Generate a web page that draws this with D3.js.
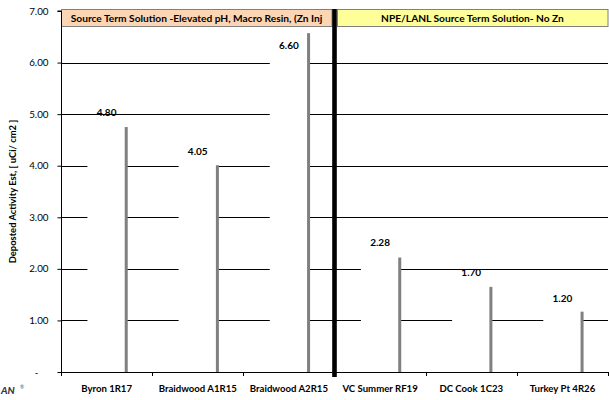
<!DOCTYPE html>
<html>
<head>
<meta charset="utf-8">
<script src="https://cdn.jsdelivr.net/npm/d3@7"></script>
<style>
  body { margin: 0; background: #fff; }
  svg { display: block; font-family: Lato, "Open Sans", sans-serif; }
</style>
</head>
<body>
<svg id="chart" width="609" height="400"></svg>
<script>
const categories = ["Byron 1R17", "Braidwood A1R15", "Braidwood A2R15", "VC Summer RF19", "DC Cook 1C23", "Turkey Pt 4R26"];
const labelValues = [4.80, 4.05, 6.60, 2.28, 1.70, 1.20];
const greyValues = [4.75, 4.01, 6.57, 2.22, 1.65, 1.17];
const yTicks = [0, 1, 2, 3, 4, 5, 6, 7];
const yTitle = "Deposted Activity Est, [ uCi/ cm2 ]";
const groups = [
  { title: "Source Term Solution -Elevated pH, Macro Resin, (Zn Inj", fill: "#FCD5B4" },
  { title: "NPE/LANL Source Term Solution- No Zn", fill: "#FFFF99" }
];

const svg = d3.select("#chart");
const pLeft = 61, pRight = 608, pTop = 11, pBottom = 372;

const x = d3.scaleBand().domain(categories).range([pLeft, pRight]).padding(0);
const y = d3.scaleLinear().domain([0, 7]).range([pBottom, pTop]);
const bw = x.bandwidth();
const whiteW = bw * 0.42;

// gridlines
svg.append("g").selectAll("line").data(yTicks.filter(d => d > 0 && d < 7)).join("line")
  .attr("x1", pLeft).attr("x2", pRight)
  .attr("y1", d => Math.round(y(d)) + 0.5).attr("y2", d => Math.round(y(d)) + 0.5)
  .attr("stroke", "#000").attr("stroke-width", 1);

// white bars (hide gridlines)
svg.append("g").selectAll("rect").data(categories).join("rect")
  .attr("x", (d) => x(d) + bw / 2 - whiteW / 2)
  .attr("width", whiteW)
  .attr("y", (d, i) => y(labelValues[i]))
  .attr("height", (d, i) => pBottom - y(labelValues[i]))
  .attr("fill", "#fff");

// grey thin bars
svg.append("g").selectAll("rect").data(categories).join("rect")
  .attr("x", (d) => x(d) + bw / 2 + whiteW / 2 - 1)
  .attr("width", 3)
  .attr("y", (d, i) => y(greyValues[i]))
  .attr("height", (d, i) => pBottom - y(greyValues[i]))
  .attr("fill", "#808080");

// value labels
svg.append("g").selectAll("text").data(categories).join("text")
  .attr("x", d => x(d) + bw / 2)
  .attr("y", (d, i) => {
    const yy = y(labelValues[i]) - 8.5;
    return yy < 35 ? y(labelValues[i]) + 17 : yy;
  })
  .attr("text-anchor", "middle")
  .attr("font-size", 10).attr("font-weight", "bold").attr("fill", "#000")
  .text((d, i) => labelValues[i].toFixed(2));

// header boxes
const sepX = (x(categories[2]) + bw + x(categories[3])) / 2;
groups.forEach((g, gi) => {
  const x0 = gi === 0 ? pLeft : sepX + 2.5;
  const x1 = gi === 0 ? sepX - 2.5 : pRight;
  svg.append("rect").attr("x", x0 + 0.5).attr("y", 9.5).attr("width", x1 - x0 - 0.5).attr("height", 17)
    .attr("fill", g.fill).attr("stroke", "#7f7f7f").attr("stroke-width", 1);
  svg.append("text").attr("x", (x0 + x1) / 2).attr("y", 21.8)
    .attr("text-anchor", "middle").attr("font-size", 10.2).attr("font-weight", "bold").attr("fill", "#000")
    .text(g.title);
});

// separator
svg.append("rect").attr("x", sepX - 2.3).attr("y", 9).attr("width", 4.6).attr("height", pBottom + 5 - 9).attr("fill", "#000");

// y axis
const yAxis = d3.axisLeft(y).tickValues(yTicks).tickSize(4).tickPadding(9)
  .tickFormat(d => d === 0 ? "-" : d3.format(".2f")(d));
const gy = svg.append("g").attr("transform", `translate(${pLeft + 0.5},0)`).call(yAxis);
gy.select(".domain").attr("stroke", "#000").attr("d", `M-4,${pTop}H0V${pBottom}`);
gy.selectAll(".tick line").attr("stroke", "#000");
gy.selectAll(".tick text").attr("font-size", 9.8).attr("fill", "#000").attr("font-family", "Lato, sans-serif");
gy.selectAll(".tick").filter(d => d === 0).select("text").attr("dx", -10);

// x axis
const xAxis = d3.axisBottom(x).tickSize(0).tickPadding(13);
const gx = svg.append("g").attr("transform", `translate(0,${pBottom + 0.5})`).call(xAxis);
gx.select(".domain").attr("stroke", "#000").attr("d", `M${pLeft},0H${pRight}`);
gx.selectAll(".tick text").attr("font-size", 9.6).attr("font-weight", "bold").attr("fill", "#000").attr("font-family", "Lato, sans-serif");
// boundary ticks
const bounds = categories.map(c => x(c)).concat([pRight]);
svg.append("g").selectAll("line").data(bounds).join("line")
  .attr("x1", d => Math.round(d) + 0.5).attr("x2", d => Math.round(d) + 0.5)
  .attr("y1", pBottom).attr("y2", pBottom + 4).attr("stroke", "#000");

// y title
svg.append("text").attr("transform", `translate(16,${(pTop + pBottom) / 2}) rotate(-90)`)
  .attr("text-anchor", "middle").attr("font-size", 9.4).attr("font-weight", "bold").attr("fill", "#000")
  .text(yTitle);

// logo fragment
svg.append("text").attr("x", 1).attr("y", 394).attr("font-size", 10).attr("font-weight", "900")
  .attr("font-style", "italic").attr("fill", "#3a3a3a").text("AN");
svg.append("text").attr("x", 20).attr("y", 389).attr("font-size", 5).attr("fill", "#555").text("®");
</script>
</body>
</html>
